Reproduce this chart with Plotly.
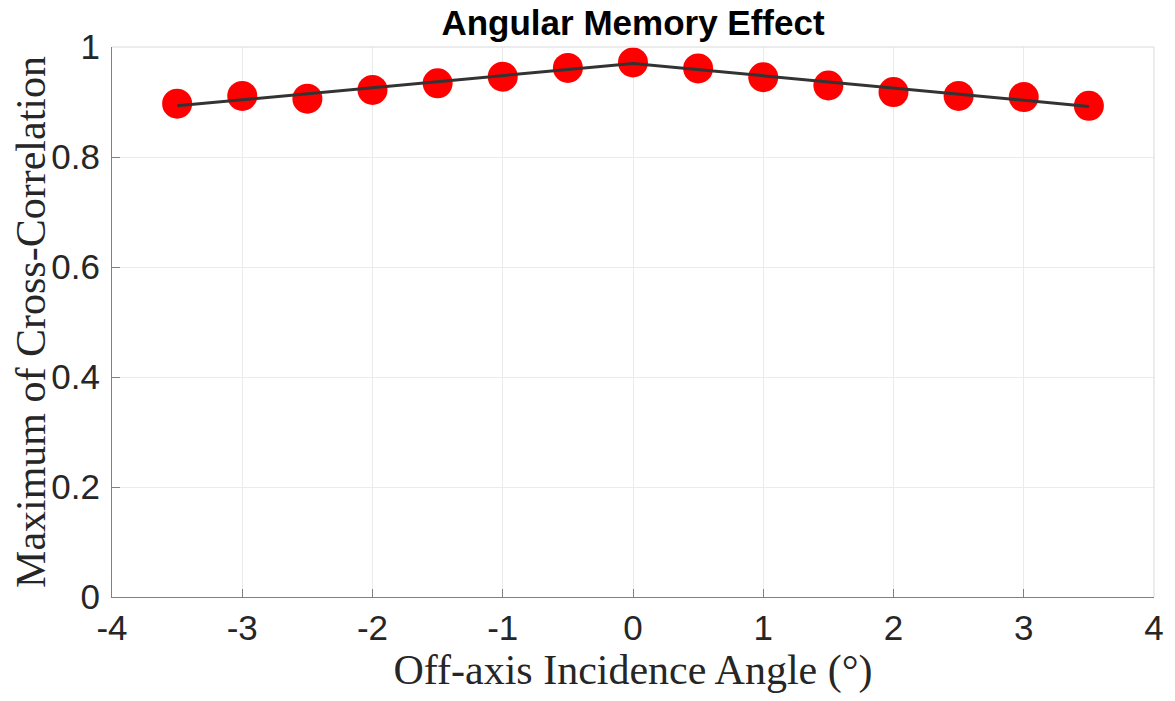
import plotly.graph_objects as go

angles = [-3.5, -3, -2.5, -2, -1.5, -1, -0.5, 0, 0.5, 1, 1.5, 2, 2.5, 3, 3.5]
xcorr_max = [0.897, 0.911, 0.906, 0.922, 0.934, 0.946, 0.962, 0.972,
             0.961, 0.945, 0.930, 0.918, 0.911, 0.909, 0.893]
fit_x = [-3.5, 0, 3.5]
fit_y = [0.893, 0.970, 0.892]

x_ticks = [-4, -3, -2, -1, 0, 1, 2, 3, 4]
y_ticks = [0, 0.2, 0.4, 0.6, 0.8, 1]
y_ticklabels = ["0", "0.2", "0.4", "0.6", "0.8", "1"]

W, H = 1167, 693

fig = go.Figure()
fig.add_trace(go.Scatter(x=angles, y=xcorr_max, mode="markers",
                         marker=dict(color="#ff0000", size=30, line=dict(width=0)),
                         showlegend=False))
fig.add_trace(go.Scatter(x=fit_x, y=fit_y, mode="lines",
                         line=dict(color="#333333", width=3),
                         showlegend=False))

axis_common = dict(showline=True, linecolor="#808080", linewidth=1, mirror=False,
                   showgrid=True, gridcolor="#ebebeb", gridwidth=1,
                   zeroline=False, ticks="inside", ticklen=8, tickcolor="#808080",
                   tickfont=dict(family="Liberation Sans, Arial", size=35, color="#262626"))

fig.update_layout(
    width=W, height=H,
    paper_bgcolor="white", plot_bgcolor="white",
    margin=dict(l=104, r=21, t=39, b=104),
    title=dict(text="<b>Angular Memory Effect</b>", x=0.5, xanchor="center",
               xref="paper", yref="container", y=1 - 15 / H, yanchor="middle",
               font=dict(family="Liberation Sans, Arial", size=35, color="black")),
    xaxis=dict(range=[-4, 4], tickvals=x_ticks, ticktext=[str(v) for v in x_ticks],
               title=dict(text="Off-axis Incidence Angle (°)", standoff=3,
                          font=dict(family="Liberation Serif, Times New Roman", size=42, color="#262626")),
               **axis_common),
    yaxis=dict(range=[0, 1], tickvals=y_ticks, ticktext=y_ticklabels,
               ticklabelstandoff=4,
               title=dict(text="Maximum of Cross-Correlation", standoff=0,
                          font=dict(family="Liberation Serif, Times New Roman", size=42, color="#262626")),
               **axis_common),
    shapes=[
        dict(type="line", xref="paper", yref="paper", x0=0, x1=1, y0=1, y1=1,
             line=dict(color="#d9d9d9", width=1)),
        dict(type="line", xref="paper", yref="paper", x0=1, x1=1, y0=0, y1=1,
             line=dict(color="#d9d9d9", width=1)),
    ],
)

fig.write_html("out.html")
